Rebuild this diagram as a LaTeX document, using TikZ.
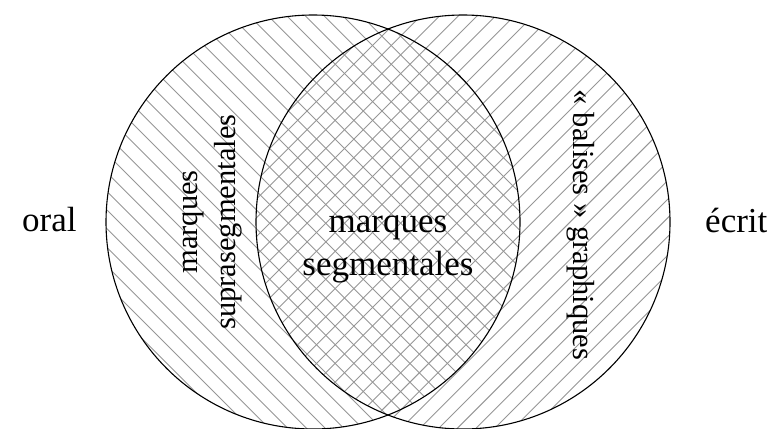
\documentclass[tikz,border=0pt]{standalone}
\usepackage{fontspec}
\setmainfont{Liberation Serif}
\tikzset{
  hatchline/.style={draw={rgb,255:red,150;green,150;blue,150}, line width=0.9pt},
  ring/.style={draw=black, line width=1.1pt},
  bigtext/.style={font=\fontsize{35}{42}\selectfont, inner sep=0pt},
  sidetext/.style={font=\fontsize{30.5}{38}\selectfont, inner sep=0pt},
}
\begin{document}
\begin{tikzpicture}[x=1pt,y=-1pt]
\useasboundingbox (0,0) rectangle (775,428);
\coordinate (cl) at (313,222);
\coordinate (cr) at (463,222);
% left circle hatching (\ direction)
\begin{scope}
  \clip (cl) circle[radius=207];
  \foreach \k in {-11,...,23} {
    \draw[hatchline] ({-28.3+18.7*\k-10},-10) -- ({-28.3+18.7*\k+440},440);
  }
\end{scope}
% right circle hatching (/ direction)
\begin{scope}
  \clip (cr) circle[radius=207];
  \foreach \k in {-30,...,4} {
    \draw[hatchline] ({923+18.7*\k+10},-10) -- ({923+18.7*\k-440},440);
  }
\end{scope}
\draw[ring] (cl) circle[radius=207];
\draw[ring] (cr) circle[radius=207];
% texts
\node[bigtext, anchor=base west] (oral) at (22,231) {oral};
\node[bigtext, anchor=base west] (ecrit) at (705,232) {écrit};
\node[bigtext, anchor=base] (m1) at (388,232) {marques};
\node[bigtext, anchor=base] (m2) at (388,275) {segmentales};
\node[sidetext, rotate=90, anchor=base] (s1) at (197,222) {marques};
\node[sidetext, rotate=90, anchor=base] (s2) at (235,222) {suprasegmentales};
\node[sidetext, rotate=-90, anchor=base] (b1) at (573,225) {« balises » graphiques};
\end{tikzpicture}
\end{document}
